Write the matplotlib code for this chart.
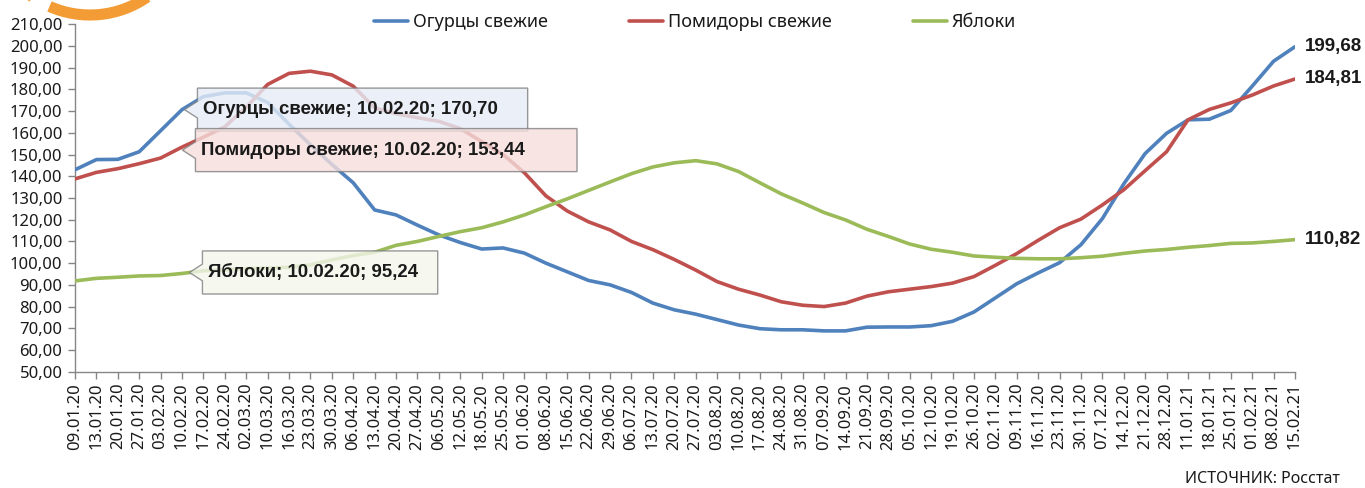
import matplotlib
matplotlib.use("Agg")
import matplotlib.pyplot as plt
from matplotlib.patches import Arc
from matplotlib.path import Path
import numpy as np

dates = ["09.01.20", "13.01.20", "20.01.20", "27.01.20", "03.02.20", "10.02.20", "17.02.20",
         "24.02.20", "02.03.20", "10.03.20", "16.03.20", "23.03.20", "30.03.20", "06.04.20",
         "13.04.20", "20.04.20", "27.04.20", "06.05.20", "12.05.20", "18.05.20", "25.05.20",
         "01.06.20", "08.06.20", "15.06.20", "22.06.20", "29.06.20", "06.07.20", "13.07.20",
         "20.07.20", "27.07.20", "03.08.20", "10.08.20", "17.08.20", "24.08.20", "31.08.20",
         "07.09.20", "14.09.20", "21.09.20", "28.09.20", "05.10.20", "12.10.20", "19.10.20",
         "26.10.20", "02.11.20", "09.11.20", "16.11.20", "23.11.20", "30.11.20", "07.12.20",
         "14.12.20", "21.12.20", "28.12.20", "11.01.21", "18.01.21", "25.01.21", "01.02.21",
         "08.02.21", "15.02.21"]

cucumbers = [143.0, 147.7, 147.8, 151.3, 161.0, 170.70, 176.7, 178.4, 178.4, 174.0,
             164.0, 154.5, 145.5, 137.0, 124.5, 122.2, 117.5, 113.0, 109.5, 106.5,
             107.0, 104.6, 100.0, 96.0, 92.0, 90.0, 86.5, 81.6, 78.5, 76.5,
             74.0, 71.5, 69.8, 69.3, 69.3, 68.8, 68.8, 70.5, 70.6, 70.6,
             71.2, 73.2, 77.5, 84.0, 90.5, 95.5, 100.2, 108.5, 120.5, 136.5,
             150.5, 159.8, 166.0, 166.3, 170.3, 181.5, 193.0, 199.68]

tomatoes = [138.8, 141.8, 143.5, 145.8, 148.4, 153.44, 158.0, 162.8, 171.8, 182.3,
            187.4, 188.4, 186.7, 181.5, 171.5, 168.8, 167.0, 165.3, 162.0, 156.0,
            150.0, 141.6, 131.0, 124.0, 119.0, 115.3, 110.0, 106.2, 101.7, 96.8,
            91.5, 88.0, 85.3, 82.2, 80.6, 80.0, 81.6, 84.8, 86.8, 88.0,
            89.2, 90.8, 93.8, 99.0, 104.4, 110.5, 116.3, 120.3, 126.8, 133.8,
            142.6, 151.3, 166.0, 170.8, 173.8, 177.4, 181.6, 184.81]

apples = [91.8, 93.0, 93.5, 94.1, 94.3, 95.24, 96.5, 96.9, 97.5, 97.7,
          98.1, 99.2, 101.5, 103.5, 105.0, 108.2, 110.0, 112.3, 114.5, 116.3,
          119.0, 122.2, 126.0, 129.6, 133.5, 137.4, 141.2, 144.3, 146.2, 147.2,
          145.7, 142.2, 137.0, 131.9, 127.7, 123.3, 119.9, 115.6, 112.3, 108.8,
          106.4, 105.0, 103.3, 102.7, 102.2, 102.0, 102.0, 102.5, 103.2, 104.5,
          105.6, 106.3, 107.3, 108.1, 109.1, 109.3, 110.0, 110.82]

series_names = ["Огурцы свежие", "Помидоры свежие", "Яблоки"]
series_colors = ["#4F81BD", "#C0504D", "#9BBB59"]
box_colors = ["#E6EDF7", "#F5DEDD", "#F4F6EC"]
y_ticks = np.arange(50, 211, 10)
callout_idx = 5
source_text = "ИСТОЧНИК: Росстат"

plt.rcParams['font.family'] = ['Noto Sans', 'DejaVu Sans']
BOLD = ['Liberation Sans', 'DejaVu Sans']
TXT = "#1a1a1a"
AX = "#868686"


def callout_style(right_pad):
    """Excel-like callout: rectangle with a pointer notch on the left side."""
    def style(x0, y0, width, height, mutation_size):
        px, py = 0.3 * mutation_size, 0.7 * mutation_size
        L, h = 0.7 * mutation_size, 0.45 * mutation_size
        xl, xr = x0 - px, x0 + width + right_pad * mutation_size
        yb, yt = y0 - py, y0 + height + py
        ym = 0.5 * (yb + yt)
        verts = [(xl, yb), (xr, yb), (xr, yt), (xl, yt), (xl, ym + h),
                 (xl - L, ym), (xl, ym - h), (xl, yb), (xl, yb)]
        codes = [Path.MOVETO] + [Path.LINETO] * 7 + [Path.CLOSEPOLY]
        return Path(verts, codes)
    return style


fig = plt.figure(figsize=(13.65, 4.88), dpi=100)
ax = fig.add_axes([75/1365, 1-371.7/488, 1220/1365, 347.4/488])

x = np.arange(len(dates))
all_series = [cucumbers, tomatoes, apples]
for vals, name, col in zip(all_series, series_names, series_colors):
    ax.plot(x, vals, color=col, lw=2.6, label=name, solid_capstyle='round', zorder=3)

ax.set_xlim(0, len(dates) - 1)
ax.set_ylim(50, 210)
ax.set_yticks(y_ticks)
ax.set_yticklabels([f"{v:.2f}".replace('.', ',') for v in y_ticks])
ax.set_xticks(x)
ax.set_xticklabels(dates, rotation=90)
for s in ['top', 'right']:
    ax.spines[s].set_visible(False)
for s in ['left', 'bottom']:
    ax.spines[s].set_color(AX)
    ax.spines[s].set_linewidth(1.0)
ax.tick_params(axis='both', colors=AX, labelcolor=TXT, length=5, width=1.0, direction='out')
ax.tick_params(axis='y', labelsize=12, pad=4)
ax.tick_params(axis='x', labelsize=12, pad=3)

# callouts at 10.02.20
offsets = [(21, 0), (19, -3), (26, 1)]
right_pads = [1.6, 2.8, 1.05]
for vals, name, bc, off, rp in zip(all_series, series_names, box_colors, offsets, right_pads):
    v = vals[callout_idx]
    vtxt = f"{v:.2f}".replace('.', ',')
    label = f"{name}; {dates[callout_idx]}; {vtxt}"
    ax.annotate(label, xy=(callout_idx, v), xytext=off, textcoords='offset pixels',
                ha='left', va='center', fontsize=13.4, fontweight='bold', family=BOLD, color=TXT,
                bbox=dict(boxstyle=callout_style(rp), fc=bc, ec="#7f7f7f", lw=1.0, alpha=0.8),
                zorder=5)

# end labels
for vals in all_series:
    v = vals[-1]
    ax.annotate(f"{v:.2f}".replace('.', ','), xy=(len(dates) - 1, v), xytext=(10, 0),
                textcoords='offset pixels', ha='left', va='center', fontsize=13.5,
                fontweight='bold', family=BOLD, color=TXT, annotation_clip=False)

leg = fig.legend(loc='center', bbox_to_anchor=(695/1365, 1-22/488), ncol=3, frameon=False,
                 fontsize=13, handlelength=1.9, handletextpad=0.25, columnspacing=4.5)
for t in leg.get_texts():
    t.set_color(TXT)

fig.text(1340/1365, 1-479/488, source_text, ha='right', va='center', fontsize=11.5, color=TXT)

# partial logo at top-left
for a1, a2 in [(232, 256), (261, 284), (289, 310)]:
    fig.add_artist(Arc((90/1365, 1+85/488), 200/1365, 200/488, theta1=a1, theta2=a2,
                       transform=fig.transFigure, color="#F39C35", lw=8))

fig.savefig("out.png", dpi=100)
